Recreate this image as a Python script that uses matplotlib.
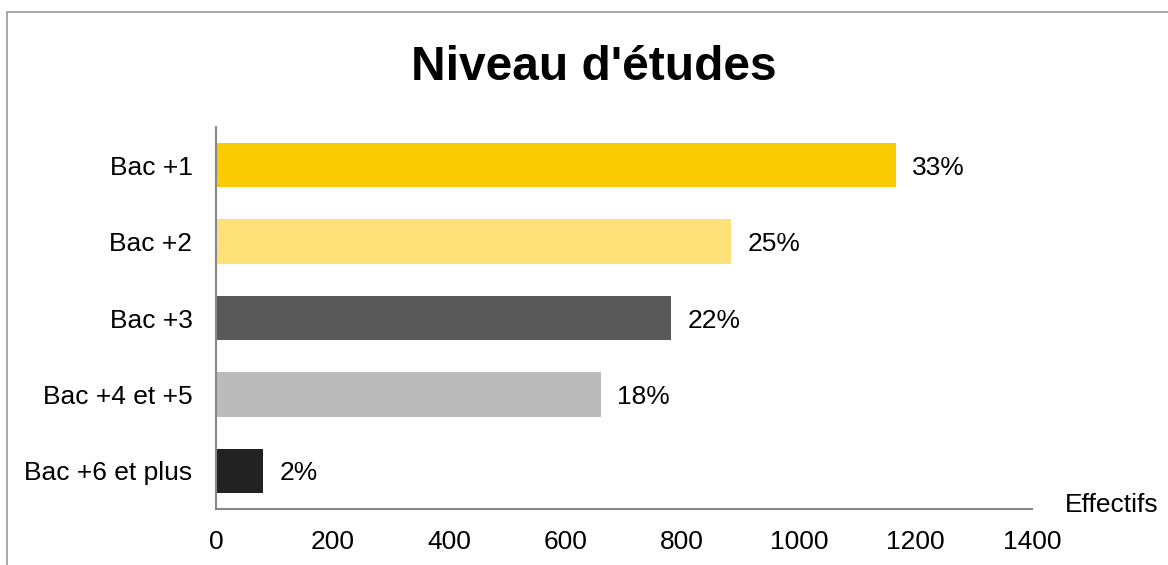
import matplotlib

matplotlib.use("Agg")
import matplotlib.pyplot as plt
from matplotlib.patches import Rectangle

categories = ["Bac +1", "Bac +2", "Bac +3", "Bac +4 et +5", "Bac +6 et plus"]
effectifs = [1166, 883, 781, 660, 81]
pourcentages = ["33%", "25%", "22%", "18%", "2%"]
couleurs = ["#FACB00", "#FFE17A", "#595959", "#BBBBBB", "#222222"]
x_ticks = [0, 200, 400, 600, 800, 1000, 1200, 1400]

plt.rcParams["font.family"] = ["Liberation Sans", "DejaVu Sans"]

W, H = 1168, 565
fs = 19
fig = plt.figure(figsize=(W / 100, H / 100), dpi=100)
ax = fig.add_axes([216 / W, 1 - 509 / H, (1032 - 216) / W, (509 - 127) / H])

y = list(range(len(categories)))
ax.barh(y, effectifs, height=0.58, color=couleurs)
for yi, val, pct in zip(y, effectifs, pourcentages):
    ax.annotate(pct, (val, yi), xytext=(12, 0), textcoords="offset points",
                va="center_baseline", ha="left", fontsize=fs)

ax.set_ylim(len(categories) - 0.5, -0.5)
ax.set_xlim(0, 1400)
ax.set_xticks(x_ticks)
ax.set_yticks(y)
ax.set_yticklabels(categories, va="center_baseline")
ax.tick_params(length=0, labelsize=fs)
ax.tick_params(axis="y", pad=17)
ax.tick_params(axis="x", pad=15)
for side in ["top", "right"]:
    ax.spines[side].set_visible(False)
for side in ["left", "bottom"]:
    ax.spines[side].set_color("#878787")
    ax.spines[side].set_linewidth(1.5)

fig.text(1065 / W, 1 - 503 / H, "Effectifs", fontsize=fs, ha="left", va="center_baseline")
fig.text(594 / W, 1 - 62 / H, "Niveau d'études", fontsize=34.5, fontweight="bold",
         ha="center", va="center_baseline")

# chart frame, cut by the image edges on the right and bottom
fig.patches.append(Rectangle((7 / W, -0.1), 1.2, (1 - 12 / H) + 0.1,
                             transform=fig.transFigure, fill=False,
                             edgecolor="#999999", linewidth=1.2))

fig.savefig("out.png", dpi=100)
